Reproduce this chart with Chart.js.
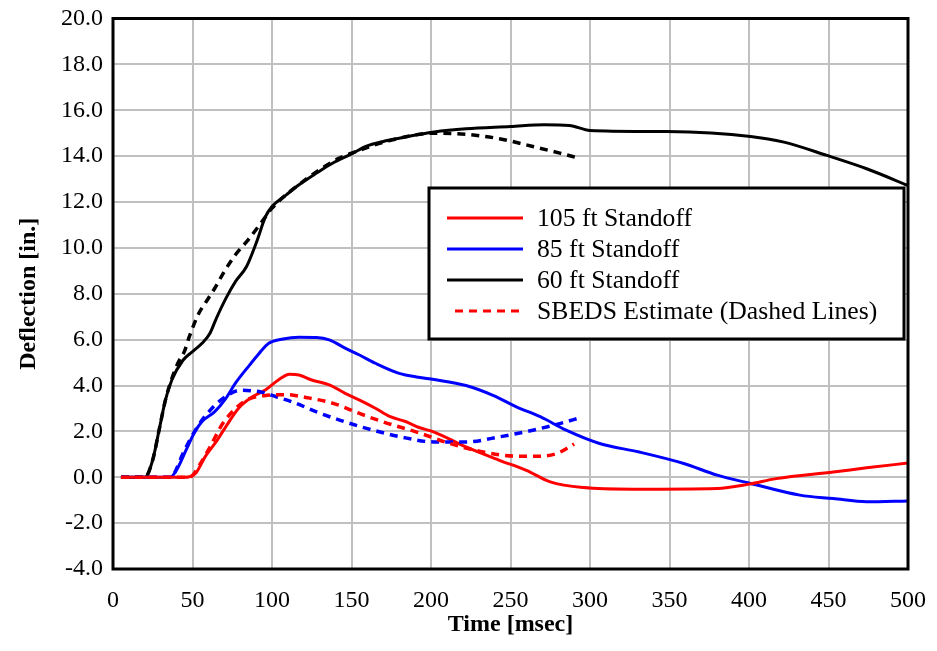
<!DOCTYPE html>
<html>
<head>
<meta charset="utf-8">
<script src="https://cdn.jsdelivr.net/npm/chart.js@4.4.1/dist/chart.umd.min.js"></script>
<style>
  body { margin: 0; background: #fff; }
  #grafico { display: block; }
</style>
</head>
<body>
<canvas id="grafico" width="937" height="651"></canvas>
<script>
// Eixos
const yTicks = [-4, -2, 0, 2, 4, 6, 8, 10, 12, 14, 16, 18, 20];
const xTicks = [0, 50, 100, 150, 200, 250, 300, 350, 400, 450, 500];

// 105 ft (medido)
const t105 = [5, 45, 48, 52, 58, 65, 71, 79, 88, 96, 104, 111, 117, 125, 136, 146, 157, 165, 174, 184, 192, 202, 222, 243, 260, 275, 296, 327, 380, 400, 417, 453, 474, 500];
const d105 = [0, 0, 0.02, 0.17, 0.9, 1.56, 2.21, 3.01, 3.52, 3.81, 4.24, 4.49, 4.46, 4.24, 4.03, 3.66, 3.3, 3.01, 2.65, 2.43, 2.18, 1.97, 1.32, 0.74, 0.3, -0.2, -0.45, -0.52, -0.49, -0.3, -0.06, 0.23, 0.41, 0.62];

// 85 ft (medido)
const t85 = [5, 36, 40, 46, 51, 56, 64, 71, 77, 86, 92, 98, 107, 117, 128, 136, 146, 155, 165, 180, 192, 202, 222, 239, 254, 269, 285, 306, 331, 359, 380, 401, 432, 453, 474, 500];
const d85 = [0, 0, 0.32, 1.19, 1.92, 2.43, 2.86, 3.44, 4.1, 4.9, 5.41, 5.84, 6.03, 6.1, 6.09, 5.99, 5.63, 5.33, 4.97, 4.53, 4.36, 4.26, 4.0, 3.57, 3.06, 2.63, 2.05, 1.47, 1.1, 0.6, 0.09, -0.27, -0.78, -0.93, -1.07, -1.03];

// 60 ft (medido)
const t60 = [5, 20, 25, 29, 33, 37, 44, 50, 56, 61, 65, 71, 77, 84, 90, 96, 100, 109, 117, 128, 138, 151, 159, 170, 180, 202, 222, 250, 271, 287, 300, 348, 401, 422, 449, 474, 500];
const d60 = [0, 0, 0.76, 2.06, 3.37, 4.24, 5.1, 5.48, 5.84, 6.28, 6.93, 7.8, 8.53, 9.19, 10.2, 11.37, 11.8, 12.31, 12.75, 13.26, 13.69, 14.13, 14.42, 14.64, 14.78, 15.05, 15.19, 15.29, 15.37, 15.34, 15.12, 15.07, 14.86, 14.61, 14.03, 13.45, 12.72];

// Estimativas SBEDS (tracejadas)
const tS105 = [5, 48, 55, 61, 69, 78, 86, 97, 109, 122, 139, 155, 170, 191, 212, 233, 254, 269, 279, 287, 290];
const dS105 = [0, 0, 0.6, 1.32, 2.34, 3.06, 3.43, 3.57, 3.6, 3.47, 3.21, 2.78, 2.41, 1.97, 1.47, 1.1, 0.92, 0.92, 1.03, 1.32, 1.45];
const tS85 = [5, 37, 39, 44, 53, 63, 72, 80, 93, 103, 113, 128, 143, 160, 181, 202, 222, 243, 264, 281, 294];
const dS85 = [0, 0, 0.23, 1.03, 2.19, 3.06, 3.57, 3.79, 3.72, 3.5, 3.28, 2.85, 2.48, 2.12, 1.76, 1.54, 1.54, 1.76, 2.05, 2.34, 2.6];
const tS60 = [5, 20, 25, 29, 33, 37, 41, 45, 48, 54, 58, 64, 70, 77, 85, 93, 100, 121, 142, 153, 172, 202, 222, 243, 264, 281, 294];
const dS60 = [0, 0, 0.76, 2.06, 3.37, 4.3, 5.0, 5.5, 6.13, 7.15, 7.59, 8.24, 8.97, 9.7, 10.35, 11.08, 11.73, 12.97, 13.9, 14.2, 14.64, 15.0, 14.95, 14.76, 14.42, 14.13, 13.89];

const legendas = ['105 ft Standoff', '85 ft Standoff', '60 ft Standoff', 'SBEDS Estimate (Dashed Lines)'];

function pontos(t, d) {
  return t.map((x, i) => ({ x: x, y: d[i] }));
}

function serie(label, t, d, cor, tracejado) {
  return {
    label: label,
    data: pontos(t, d),
    borderColor: cor,
    borderWidth: tracejado ? 3.5 : 3,
    borderDash: tracejado ? [8, 6] : [],
    pointRadius: 0,
    fill: false,
    cubicInterpolationMode: 'monotone'
  };
}

const fonte = "'Liberation Serif', 'Times New Roman', serif";

// zera o espaço extra que os rótulos pedem, para fixar a área do gráfico
function semPadding(s) {
  s.paddingTop = 0;
  s.paddingBottom = 0;
  s.paddingLeft = 0;
  s.paddingRight = 0;
}

// Moldura e legenda desenhadas dentro da área do gráfico
const legendaPlugin = {
  id: 'legendaCaixa',
  afterDraw(chart) {
    const ctx = chart.ctx;
    const a = chart.chartArea;
    ctx.save();
    ctx.strokeStyle = '#000';
    ctx.lineWidth = 3;
    ctx.strokeRect(a.left, a.top, a.right - a.left, a.bottom - a.top);

    const bx = 429, by = 188, bw = 475, bh = 151;
    ctx.fillStyle = '#fff';
    ctx.fillRect(bx, by, bw, bh);
    ctx.lineWidth = 3;
    ctx.strokeRect(bx, by, bw, bh);

    const estilos = [
      { cor: 'red', dash: [] },
      { cor: 'blue', dash: [] },
      { cor: 'black', dash: [] },
      { cor: 'red', dash: [8, 6] }
    ];
    ctx.font = '25.7px ' + fonte;
    ctx.textBaseline = 'middle';
    ctx.fillStyle = '#000';
    legendas.forEach((txt, i) => {
      const y = 218 + i * 31;
      ctx.beginPath();
      ctx.strokeStyle = estilos[i].cor;
      ctx.lineWidth = 3;
      ctx.setLineDash(estilos[i].dash);
      ctx.moveTo(estilos[i].dash.length ? 455 : 447, y);
      ctx.lineTo(523, y);
      ctx.stroke();
      ctx.setLineDash([]);
      ctx.fillText(txt, 537, y + 1);
    });
    ctx.restore();
  }
};

const ctx = document.getElementById('grafico').getContext('2d');
new Chart(ctx, {
  type: 'line',
  data: {
    datasets: [
      serie('SBEDS 105', tS105, dS105, 'red', true),
      serie('SBEDS 85', tS85, dS85, 'blue', true),
      serie('SBEDS 60', tS60, dS60, 'black', true),
      serie(legendas[0], t105, d105, 'red', false),
      serie(legendas[1], t85, d85, 'blue', false),
      serie(legendas[2], t60, d60, 'black', false)
    ]
  },
  options: {
    responsive: false,
    animation: false,
    devicePixelRatio: 1,
    layout: { padding: { top: 18.5, right: 29, left: 0, bottom: 0 } },
    plugins: {
      legend: { display: false },
      tooltip: { enabled: false }
    },
    scales: {
      x: {
        type: 'linear',
        min: 0,
        max: 500,
        afterBuildTicks: (s) => { s.ticks = xTicks.map(v => ({ value: v })); },
        afterFit: (s) => { s.height = 82; semPadding(s); },
        grid: { color: '#c0c0c0', lineWidth: 2, drawTicks: false },
        border: { display: false },
        ticks: { color: '#000', font: { family: fonte, size: 24 }, padding: 17, maxRotation: 0 },
        title: {
          display: true,
          text: 'Time [msec]',
          color: '#000',
          font: { family: fonte, size: 24, weight: 'bold' },
          padding: { top: 0, bottom: 12 }
        }
      },
      y: {
        type: 'linear',
        min: -4,
        max: 20,
        afterBuildTicks: (s) => { s.ticks = yTicks.map(v => ({ value: v })); },
        afterFit: (s) => { s.width = 113; semPadding(s); },
        grid: { color: '#c0c0c0', lineWidth: 2, drawTicks: false },
        border: { display: false },
        ticks: { color: '#000', font: { family: fonte, size: 24 }, padding: 10, callback: (v) => v.toFixed(1) },
        title: {
          display: true,
          text: 'Deflection [in.]',
          color: '#000',
          font: { family: fonte, size: 24, weight: 'bold' },
          padding: { top: 14, bottom: 0 }
        }
      }
    }
  },
  plugins: [legendaPlugin]
});
</script>
</body>
</html>
